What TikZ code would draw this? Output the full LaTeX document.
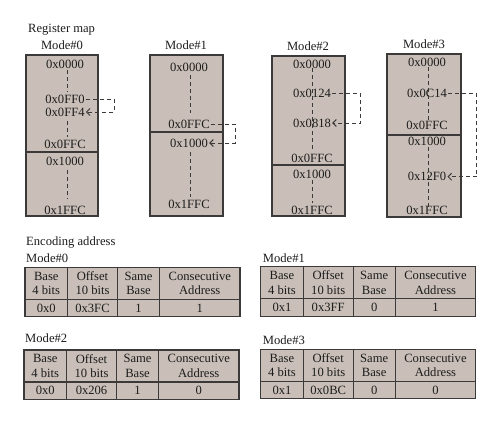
\documentclass[tikz,border=0pt]{standalone}
\usepackage{fontspec}
\setmainfont{Liberation Serif}
\usetikzlibrary{arrows.meta}
\definecolor{cellfill}{HTML}{C9BFB8}
\definecolor{edgec}{HTML}{3C3A38}
\definecolor{txtc}{HTML}{1C1C1C}
\newcommand{\enctab}[5]{%
  \fill[cellfill] (0,0) rectangle (215,49.5);
  \draw[tabline] (0,0) rectangle (215,49.5);
  \draw[tabline] (0,32) -- (215,32);
  \foreach \cx in {42.5,92.5,134.5} \draw[tabline] (\cx,0) -- (\cx,49.5);
  \node[lbl,align=center] (#1h1) at (21.25,16) {Base\\4 bits};
  \node[lbl,align=center] (#1h2) at (67.5,16) {Offset\\10 bits};
  \node[lbl,align=center] (#1h3) at (113.5,16) {Same\\Base};
  \node[lbl,align=center] (#1h4) at (174.75,16) {Consecutive\\Address};
  \node[lbl] (#1v1) at (21.25,40.75) {#2};
  \node[lbl] (#1v2) at (67.5,40.75) {#3};
  \node[lbl] (#1v3) at (113.5,40.75) {#4};
  \node[lbl] (#1v4) at (174.75,40.75) {#5};
}
\begin{document}
\begin{tikzpicture}[x=1pt,y=-1pt,
  lbl/.style={font=\fontsize{12.6}{14.5}\selectfont, text=txtc, inner sep=1pt},
  title/.style={lbl, anchor=base west},
  memfill/.style={fill=cellfill, draw=edgec, line width=1.3pt},
  divider/.style={draw=edgec, line width=1.3pt},
  tabline/.style={draw=edgec, line width=1.3pt},
  guide/.style={draw=edgec, dash pattern=on 4pt off 3pt, line width=1pt},
  jump/.style={guide, -{Straight Barb[length=3.5pt,width=7pt]}}]
\useasboundingbox[fill=white] (0,0) rectangle (500,423);

% titles
\node[title] (trm) at (27,32.5) {Register map};
\node[title] (tea) at (25,245) {Encoding address};

% ---------- Mode#0 ----------
\node[lbl] (h0) at (62,45) {Mode\#0};
\draw[memfill] (26,55) rectangle (98,216);
\draw[divider] (26,152) -- (98,152);
\node[lbl] (a0) at (65,64) {0x0000};
\node[lbl] (a1) at (65,99) {0x0FF0};
\node[lbl] (a2) at (65,112) {0x0FF4};
\node[lbl] (a3) at (65,144) {0x0FFC};
\node[lbl] (a4) at (65,161) {0x1000};
\node[lbl] (a5) at (65,210) {0x1FFC};
\draw[guide] (67,70) -- (67,92);
\draw[guide] (67,121) -- (67,137);
\draw[guide] (67,170) -- (67,199);
\coordinate (ca) at (114,105);
\draw[jump] (a1.east) -| (ca) |- (a2.east);

% ---------- Mode#1 ----------
\node[lbl] (h1) at (186,45) {Mode\#1};
\draw[memfill] (150,55) rectangle (223,216);
\draw[divider] (150,132) -- (223,132);
\node[lbl] (b0) at (189,67) {0x0000};
\node[lbl] (b1) at (189,124) {0x0FFC};
\node[lbl] (b2) at (189,143) {0x1000};
\node[lbl] (b3) at (189,204) {0x1FFC};
\draw[guide] (190,75) -- (190,113);
\draw[guide] (190,152) -- (190,197);
\coordinate (cb) at (235,133);
\draw[jump] (b1.east) -| (cb) |- (b2.east);

% ---------- Mode#2 ----------
\node[lbl] (h2) at (308,46) {Mode\#2};
\draw[memfill] (272,56) rectangle (345,216);
\draw[divider] (272,165) -- (345,165);
\node[lbl] (c0) at (312,64) {0x0000};
\node[lbl] (c1) at (312,93.5) {0x0124};
\node[lbl] (c2) at (312,123) {0x0818};
\node[lbl] (c3) at (312,158) {0x0FFC};
\node[lbl] (c4) at (312,174) {0x1000};
\node[lbl] (c5) at (312,210) {0x1FFC};
\draw[guide] (312.7,68) -- (312.7,151);
\draw[guide] (312.7,180) -- (312.7,203);
\coordinate (cc) at (360.7,108);
\draw[jump] (c1.east) -| (cc) |- (c2.east);

% ---------- Mode#3 ----------
\node[lbl] (h3) at (424,44) {Mode\#3};
\draw[memfill] (387,54) rectangle (461,217);
\draw[divider] (387,135) -- (461,135);
\node[lbl] (d0) at (427,62.7) {0x0000};
\node[lbl] (d1) at (427,93.3) {0x0C14};
\node[lbl] (d2) at (427,125) {0x0FFC};
\node[lbl] (d3) at (427,141.7) {0x1000};
\node[lbl] (d4) at (427,176.7) {0x12F0};
\node[lbl] (d5) at (427,210) {0x1FFC};
\draw[guide] (428.3,67) -- (428.3,121);
\draw[guide] (428.3,147) -- (428.3,207);
\coordinate (cd) at (476.7,135);
\draw[jump] (d1.east) -| (cd) |- (d4.east);

% ---------- Encoding tables ----------
\node[title] (e0) at (25,262.3) {Mode\#0};
\begin{scope}[shift={(25,267.3)}]
  \enctab{t0}{0x0}{0x3FC}{1}{1}
\end{scope}
\node[title] (e1) at (261.7,262.3) {Mode\#1};
\begin{scope}[shift={(260.7,266.7)}]
  \enctab{t1}{0x1}{0x3FF}{0}{1}
\end{scope}
\node[title] (e2) at (24,342.3) {Mode\#2};
\begin{scope}[shift={(24,350)}]
  \enctab{t2}{0x0}{0x206}{1}{0}
\end{scope}
\node[title] (e3) at (261.7,344) {Mode\#3};
\begin{scope}[shift={(260.7,349.3)}]
  \enctab{t3}{0x1}{0x0BC}{0}{0}
\end{scope}
\end{tikzpicture}
\end{document}
